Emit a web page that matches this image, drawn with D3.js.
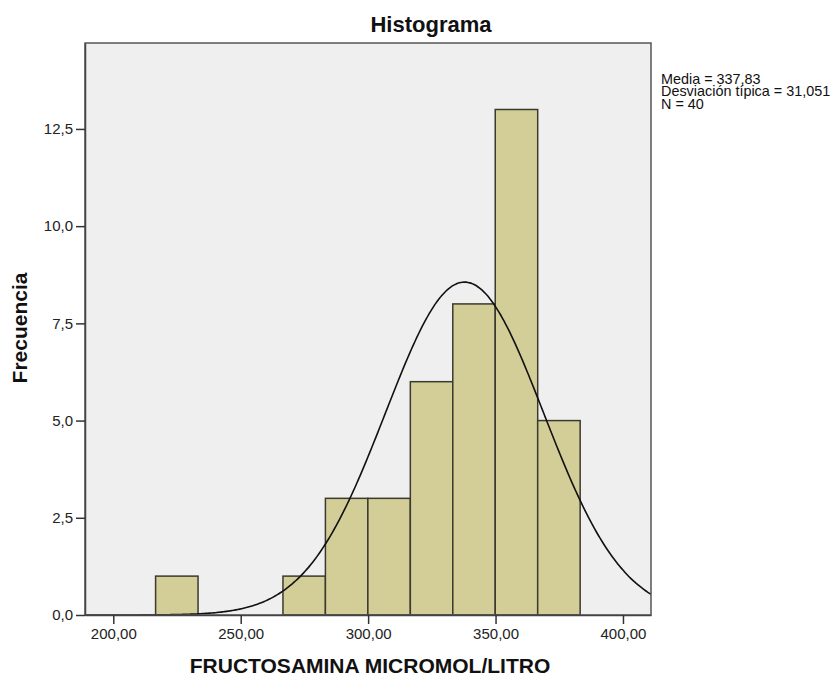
<!DOCTYPE html>
<html><head><meta charset="utf-8">
<script src="https://cdn.jsdelivr.net/npm/d3@7"></script>
<style>
html,body{margin:0;padding:0;background:#fff;}
svg{display:block;font-family:"Liberation Sans",Arial,sans-serif;}
</style></head>
<body>
<svg id="chart" width="838" height="677"></svg>
<script>
// ---- data ----
const binEdges = [216.6, 233.26, 249.92, 266.58, 283.24, 299.9, 316.56, 333.22, 349.88, 366.54, 383.2];
const binCounts = [1, 0, 0, 1, 3, 3, 6, 8, 13, 5];
const xTicks = [200, 250, 300, 350, 400];
const yTicks = [0, 2.5, 5, 7.5, 10, 12.5];
const statsLines = ["Media = 337,83", "Desviación típica = 31,051", "N = 40"];
const mean = 337.83, sd = 31.051, n = 40;
const xDomain = [188.9, 411];
const yDomain = [0, 14.71];
const titleText = "Histograma";
const xLabel = "FRUCTOSAMINA MICROMOL/LITRO";
const yLabel = "Frecuencia";

// ---- layout ----
const svg = d3.select("#chart");
const L = 85, R = 651, T = 43, B = 615;
const x = d3.scaleLinear().domain(xDomain).range([L, R]);
const y = d3.scaleLinear().domain(yDomain).range([B, T]);

// background
svg.append("rect").attr("x", L).attr("y", T).attr("width", R - L).attr("height", B - T)
  .attr("fill", "#efefef");

// bars
const bins = binCounts.map((c, i) => ({x0: binEdges[i], x1: binEdges[i + 1], c}));
svg.append("g").selectAll("rect").data(bins.filter(d => d.c > 0)).join("rect")
  .attr("x", d => x(d.x0)).attr("width", d => x(d.x1) - x(d.x0))
  .attr("y", d => y(d.c)).attr("height", d => y(0) - y(d.c))
  .attr("fill", "#d3ce98").attr("stroke", "#3a3a2e").attr("stroke-width", 1.5);

// normal curve
const bw = binEdges[1] - binEdges[0];
const curvePts = d3.range(0, 301).map(i => {
  const xv = xDomain[0] + (xDomain[1] - xDomain[0]) * i / 300;
  const z = (xv - mean) / sd;
  return [xv, n * bw / (sd * Math.sqrt(2 * Math.PI)) * Math.exp(-0.5 * z * z)];
});
svg.append("path").datum(curvePts)
  .attr("d", d3.line().x(d => x(d[0])).y(d => y(d[1])).curve(d3.curveBasis))
  .attr("fill", "none").attr("stroke", "#111").attr("stroke-width", 1.6);

// frame
svg.append("rect").attr("x", L).attr("y", T).attr("width", R - L).attr("height", B - T)
  .attr("fill", "none").attr("stroke", "#555").attr("stroke-width", 1.5);

// axes
const fmtY = v => d3.format(".1f")(v).replace(".", ",");
const fmtX = v => d3.format(".2f")(v).replace(".", ",");
const ya = svg.append("g").attr("transform", `translate(${L},0)`)
  .call(d3.axisLeft(y).tickValues(yTicks).tickFormat(fmtY).tickSize(9).tickSizeOuter(0).tickPadding(3));
const xa = svg.append("g").attr("transform", `translate(0,${B})`)
  .call(d3.axisBottom(x).tickValues(xTicks).tickFormat(fmtX).tickSize(9).tickSizeOuter(0).tickPadding(4));
[ya, xa].forEach(a => {
  a.select(".domain").attr("stroke", "#444").attr("stroke-width", 1.5);
  a.selectAll(".tick line").attr("stroke", "#333").attr("stroke-width", 1.5);
  a.selectAll(".tick text").attr("fill", "#222").style("font-size", "15px")
    .style("font-family", '"Liberation Sans",Arial,sans-serif');
});

// title
svg.append("text").attr("x", 431).attr("y", 32).attr("text-anchor", "middle")
  .style("font-size", "22px").style("font-weight", "bold").attr("fill", "#111").text(titleText);
// x label
svg.append("text").attr("x", 370).attr("y", 673).attr("text-anchor", "middle")
  .style("font-size", "21px").style("font-weight", "bold").attr("fill", "#111").text(xLabel);
// y label
svg.append("text").attr("transform", "translate(27,328) rotate(-90)").attr("text-anchor", "middle")
  .style("font-size", "21px").style("font-weight", "bold").attr("fill", "#111").text(yLabel);

// stats (one multi-line text block)
svg.append("text").attr("x", 661).attr("y", 84)
  .style("font-size", "14.4px").attr("fill", "#111")
  .selectAll("tspan").data(statsLines).join("tspan")
  .attr("x", 661).attr("dy", (d, i) => i === 0 ? 0 : 12.3).text(d => d);
</script>
</body></html>
